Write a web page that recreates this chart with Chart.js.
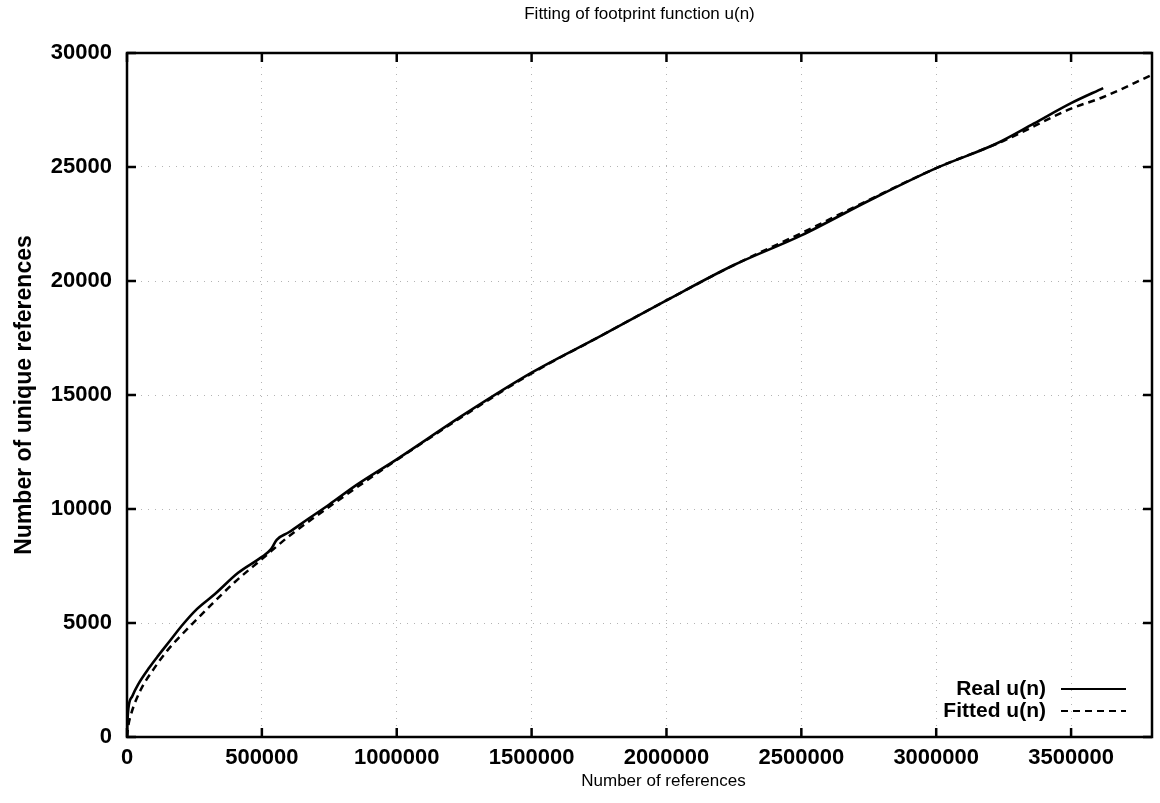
<!DOCTYPE html>
<html>
<head>
<meta charset="utf-8">
<title>Fitting of footprint function u(n)</title>
<script src="https://cdn.jsdelivr.net/npm/chart.js@4.4.1/dist/chart.umd.min.js"></script>
<style>
  html, body { margin: 0; padding: 0; background: #fff; }
  #wrap { width: 1160px; height: 803px; }
</style>
</head>
<body>
<div id="wrap"><canvas id="footprintChart" width="1160" height="803"></canvas></div>
<script>
// measured footprint: total references vs. unique references seen so far
const realRefs = [0, 1500, 5000, 20000, 42000, 80000, 116000, 160000, 203000, 258000,
  326000, 412000, 500000, 535000, 555000, 600000, 671000, 750000, 850000, 1000000,
  1250000, 1500000, 1750000, 2000000, 2250000, 2500000, 2750000, 3000000, 3222000,
  3361000, 3500000, 3619000];
const realUnique = [0, 650, 1250, 1800, 2320, 3000, 3570, 4230, 4880, 5600,
  6270, 7200, 7900, 8250, 8650, 8980, 9560, 10200, 11050, 12180,
  14150, 15980, 17550, 19150, 20700, 22000, 23520, 24950, 26020,
  26900, 27800, 28460];

// fitted u(n)
const fitRefs = [0, 5000, 15000, 50000, 100000, 150000, 200000, 300000, 400000, 500000,
  600000, 750000, 1000000, 1250000, 1500000, 1750000, 2000000, 2250000, 2500000,
  2750000, 3000000, 3250000, 3500000, 3620000, 3800000];
const fitUnique = [0, 500, 1000, 2050, 3000, 3800, 4450, 5650, 6800, 7800,
  8800, 10100, 12150, 14100, 15950, 17550, 19150, 20700, 22100,
  23550, 24950, 26150, 27560, 28070, 29040];

const xTicks = [0, 500000, 1000000, 1500000, 2000000, 2500000, 3000000, 3500000];
const yTicks = [0, 5000, 10000, 15000, 20000, 25000, 30000];

const xTitle = 'Number of references';

const FONT = '"Liberation Sans", Arial, Helvetica, sans-serif';
Chart.defaults.font.family = FONT;
Chart.defaults.color = '#000';

const toPoints = (xs, ys) => xs.map((x, i) => ({ x, y: ys[i] }));

// frame round the plot with inward tick marks on all four sides
const frameTicks = {
  id: 'frameTicks',
  afterDatasetsDraw(chart) {
    const { ctx, chartArea: a, scales: { x, y } } = chart;
    const len = 9;
    ctx.save();
    ctx.strokeStyle = '#000';
    ctx.lineWidth = 2.5;
    ctx.strokeRect(a.left, a.top, a.right - a.left, a.bottom - a.top);
    ctx.beginPath();
    x.ticks.forEach((t) => {
      const px = x.getPixelForValue(t.value);
      ctx.moveTo(px, a.bottom);
      ctx.lineTo(px, a.bottom - len);
      ctx.moveTo(px, a.top);
      ctx.lineTo(px, a.top + len);
    });
    y.ticks.forEach((t) => {
      const py = y.getPixelForValue(t.value);
      ctx.moveTo(a.left, py);
      ctx.lineTo(a.left + len, py);
      ctx.moveTo(a.right, py);
      ctx.lineTo(a.right - len, py);
    });
    ctx.stroke();

    // x axis caption sits under the 2000000 label
    ctx.font = '17px ' + FONT;
    ctx.fillStyle = '#000';
    ctx.textAlign = 'center';
    ctx.textBaseline = 'middle';
    ctx.fillText(xTitle, x.getPixelForValue(2000000) - 3, 781);
    ctx.restore();
  },
};

// gnuplot-style key: right-aligned label, then a line sample
const keyBox = {
  id: 'keyBox',
  afterDatasetsDraw(chart) {
    const { ctx, chartArea: a } = chart;
    ctx.save();
    ctx.font = 'bold 21px ' + FONT;
    ctx.textAlign = 'right';
    ctx.textBaseline = 'middle';
    chart.data.datasets.forEach((ds, i) => {
      const yy = a.bottom - 48 + i * 22;
      ctx.fillStyle = '#000';
      ctx.fillText(ds.label, a.right - 106, yy);
      ctx.strokeStyle = ds.borderColor;
      ctx.lineWidth = 2;
      ctx.setLineDash(ds.borderDash || []);
      ctx.beginPath();
      ctx.moveTo(a.right - 91, yy);
      ctx.lineTo(a.right - 26, yy);
      ctx.stroke();
    });
    ctx.restore();
  },
};

const ctx = document.getElementById('footprintChart').getContext('2d');

new Chart(ctx, {
  type: 'line',
  data: {
    datasets: [
      {
        label: 'Real u(n)',
        data: toPoints(realRefs, realUnique),
        borderColor: '#000',
        borderWidth: 2.6,
        pointRadius: 0,
        cubicInterpolationMode: 'monotone',
        fill: false,
      },
      {
        label: 'Fitted u(n)',
        data: toPoints(fitRefs, fitUnique),
        borderColor: '#000',
        borderWidth: 2.5,
        borderDash: [7, 5],
        pointRadius: 0,
        cubicInterpolationMode: 'monotone',
        fill: false,
      },
    ],
  },
  options: {
    responsive: false,
    animation: false,
    layout: { padding: { left: 0, right: 8, top: 0, bottom: 0 } },
    plugins: {
      legend: { display: false },
      tooltip: { enabled: false },
      title: {
        display: true,
        fullSize: false,
        text: 'Fitting of footprint function u(n)',
        color: '#000',
        font: { size: 17, weight: 'normal' },
        padding: { top: 4, bottom: 28.6 },
      },
    },
    scales: {
      x: {
        type: 'linear',
        min: 0,
        max: 3800000,
        afterBuildTicks: (scale) => {
          scale.ticks = xTicks.map((v) => ({ value: v }));
        },
        afterFit: (scale) => {
          scale.height = 66;
        },
        ticks: {
          font: { size: 22, weight: 'bold' },
          color: '#000',
          padding: 8,
          maxRotation: 0,
          callback: (v) => String(v),
        },
        grid: {
          color: '#b4b4b4',
          lineWidth: 1,
          drawTicks: false,
        },
        border: { display: false, dash: [1, 6] },
        title: { display: false, text: xTitle },
      },
      y: {
        type: 'linear',
        min: 0,
        max: 30000,
        afterBuildTicks: (scale) => {
          scale.ticks = yTicks.map((v) => ({ value: v }));
        },
        afterFit: (scale) => {
          scale.width = 127;
        },
        ticks: {
          font: { size: 22, weight: 'bold' },
          color: '#000',
          padding: 15,
          callback: (v) => String(v),
        },
        grid: {
          color: '#b4b4b4',
          lineWidth: 1,
          drawTicks: false,
        },
        border: { display: false, dash: [1, 6] },
        title: {
          display: true,
          text: 'Number of unique references',
          color: '#000',
          font: { size: 23, weight: 'bold' },
          padding: { top: 11, bottom: 0 },
        },
      },
    },
  },
  plugins: [frameTicks, keyBox],
});
</script>
</body>
</html>
